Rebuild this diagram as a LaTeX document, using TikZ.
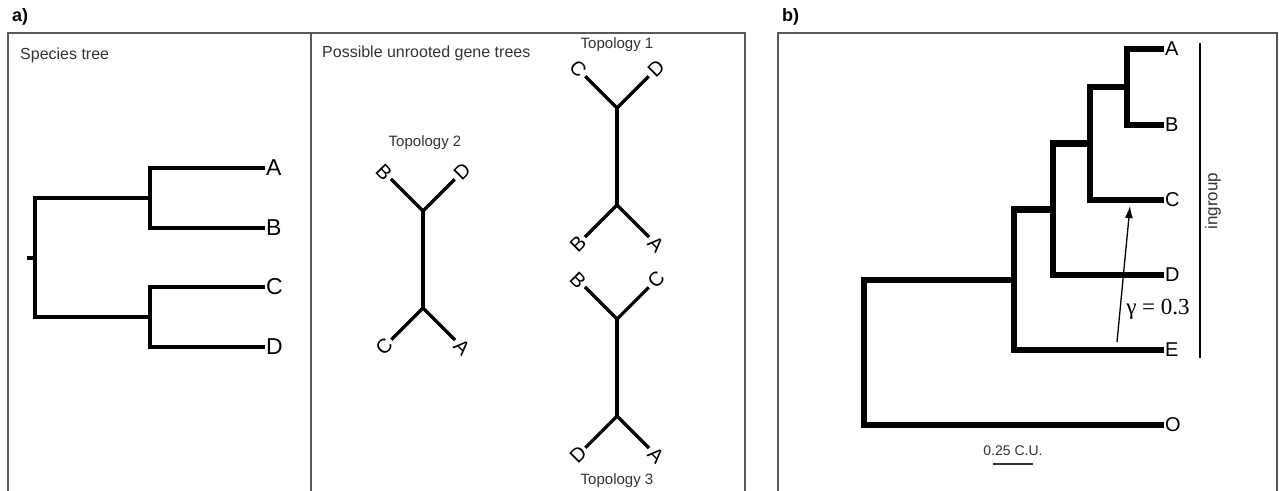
\documentclass[tikz,border=0pt]{standalone}
\usepackage{fontspec}
\setmainfont{Liberation Sans}
\newfontfamily\gammafont{Liberation Serif}
\usetikzlibrary{arrows.meta}

\begin{document}
\begin{tikzpicture}[x=1pt,y=-1pt,
  frame/.style={draw=black!65, line width=1.4pt},
  heading/.style={font=\fontsize{16}{19}\selectfont, text=black!80, inner sep=0pt},
  topo/.style={font=\fontsize{15}{18}\selectfont, text=black!80, inner sep=0pt},
  panel/.style={font=\fontsize{18}{21}\selectfont\bfseries, inner sep=0pt},
  sptip/.style={font=\fontsize{23}{26}\selectfont, anchor=west, inner sep=1pt},
  spbranch/.style={line width=4pt, line join=miter},
  gtip/.style={font=\fontsize{20}{23}\selectfont, inner sep=3pt},
  gbranch/.style={line width=3.2pt},
  ntip/.style={font=\fontsize{20}{23}\selectfont, anchor=west, inner sep=1pt},
  nbranch/.style={line width=6.5pt, line join=miter},
]
\useasboundingbox (0,0) rectangle (1279,490);

% panel frames
\begin{scope}
  \clip (0,0) rectangle (1279,490);
  \draw[frame] (8,33) rectangle (745,500);
  \draw[frame] (311,33) -- (311,500);
  \draw[frame] (778,33) rectangle (1277,500);
\end{scope}

\node[panel, anchor=west] (pa) at (12,17) {a)};
\node[panel, anchor=west] (pb) at (782,17) {b)};

% ---------- species tree ----------
\node[heading, anchor=west] (hsp) at (20,55) {Species tree};
\coordinate (sroot) at (35,257.5);
\coordinate (sAB) at (150,198);
\coordinate (sCD) at (150,317);
\node[sptip] (sA) at (265,168) {A};
\node[sptip] (sB) at (265,228) {B};
\node[sptip] (sC) at (265,287) {C};
\node[sptip] (sD) at (265,347) {D};
\draw[spbranch] (sA.west) -| (sAB) |- (sB.west);
\draw[spbranch] (sC.west) -| (sCD) |- (sD.west);
\draw[spbranch] (sAB) -| (sroot) |- (sCD);
\draw[spbranch] (sroot) -- ++(-8,0);

% ---------- unrooted gene trees ----------
\node[heading, anchor=west] (hgt) at (322,53) {Possible unrooted gene trees};

% topology 1
\node[topo] (l1) at (617,45) {Topology 1};
\coordinate (t1u) at (617,108);
\coordinate (t1l) at (617,205);
\node[gtip, rotate=-45] (t1C) at (578,69) {C};
\node[gtip, rotate=45] (t1D) at (656,69) {D};
\node[gtip, rotate=45] (t1B) at (578,244) {B};
\node[gtip, rotate=-45] (t1A) at (656,244) {A};
\draw[gbranch] (t1C) -- (t1u) -- (t1D);
\draw[gbranch] (t1u) -- (t1l);
\draw[gbranch] (t1B) -- (t1l) -- (t1A);

% topology 2
\node[topo] (l2) at (425,143) {Topology 2};
\coordinate (t2u) at (423,211);
\coordinate (t2l) at (423,308);
\node[gtip, rotate=-45] (t2B) at (384,172) {B};
\node[gtip, rotate=45] (t2D) at (462,172) {D};
\node[gtip, rotate=45] (t2C) at (384,347) {C};
\node[gtip, rotate=-45] (t2A) at (462,347) {A};
\draw[gbranch] (t2B) -- (t2u) -- (t2D);
\draw[gbranch] (t2u) -- (t2l);
\draw[gbranch] (t2C) -- (t2l) -- (t2A);

% topology 3
\coordinate (t3u) at (617,319);
\coordinate (t3l) at (617,416);
\node[gtip, rotate=-45] (t3B) at (578,280) {B};
\node[gtip, rotate=45] (t3C) at (656,280) {C};
\node[gtip, rotate=45] (t3D) at (578,455) {D};
\node[gtip, rotate=-45] (t3A) at (656,455) {A};
\draw[gbranch] (t3B) -- (t3u) -- (t3C);
\draw[gbranch] (t3u) -- (t3l);
\draw[gbranch] (t3D) -- (t3l) -- (t3A);
\node[topo] (l3) at (617,481) {Topology 3};

% ---------- network tree ----------
\coordinate (nroot) at (864,352.5);
\coordinate (nABCDE) at (1014,280);
\coordinate (nABCD) at (1053,209.5);
\coordinate (nABC) at (1090,143.5);
\coordinate (nAB) at (1127,87);
\node[ntip] (bA) at (1164,49) {A};
\node[ntip] (bB) at (1164,125) {B};
\node[ntip] (bC) at (1164,200) {C};
\node[ntip] (bD) at (1164,275) {D};
\node[ntip] (bE) at (1164,350) {E};
\node[ntip] (bO) at (1164,425) {O};
\draw[nbranch] (bA.west) -| (nAB) |- (bB.west);
\draw[nbranch] (nAB) -| (nABC) |- (bC.west);
\draw[nbranch] (nABC) -| (nABCD) |- (bD.west);
\draw[nbranch] (nABCD) -| (nABCDE) |- (bE.west);
\draw[nbranch] (nABCDE) -| (nroot) |- (bO.west);

% reticulation arrow
\coordinate (gs) at (1117,342);
\coordinate (ge) at (1130,206);
\draw[line width=1.3pt, -{Latex[length=12pt,width=8pt]}] (gs) -- (ge);
\node[font=\gammafont\fontsize{23}{27}\selectfont, inner sep=0pt] (gam) at (1158,309) {γ = 0.3};

% ingroup bar
\coordinate (ig1) at (1200,43);
\coordinate (ig2) at (1200,358);
\draw[line width=1.5pt] (ig1) -- (ig2);
\node[font=\fontsize{17}{20}\selectfont, text=black!80, rotate=90, inner sep=0pt] (ing) at (1213,201) {ingroup};

% scale bar
\coordinate (sb1) at (993,464);
\coordinate (sb2) at (1033,464);
\draw[line width=2.5pt, black!80] (sb1) -- (sb2);
\node[font=\fontsize{14}{17}\selectfont, text=black!80, inner sep=0pt] (cu) at (1013,451) {0.25 C.U.};
\end{tikzpicture}
\end{document}
